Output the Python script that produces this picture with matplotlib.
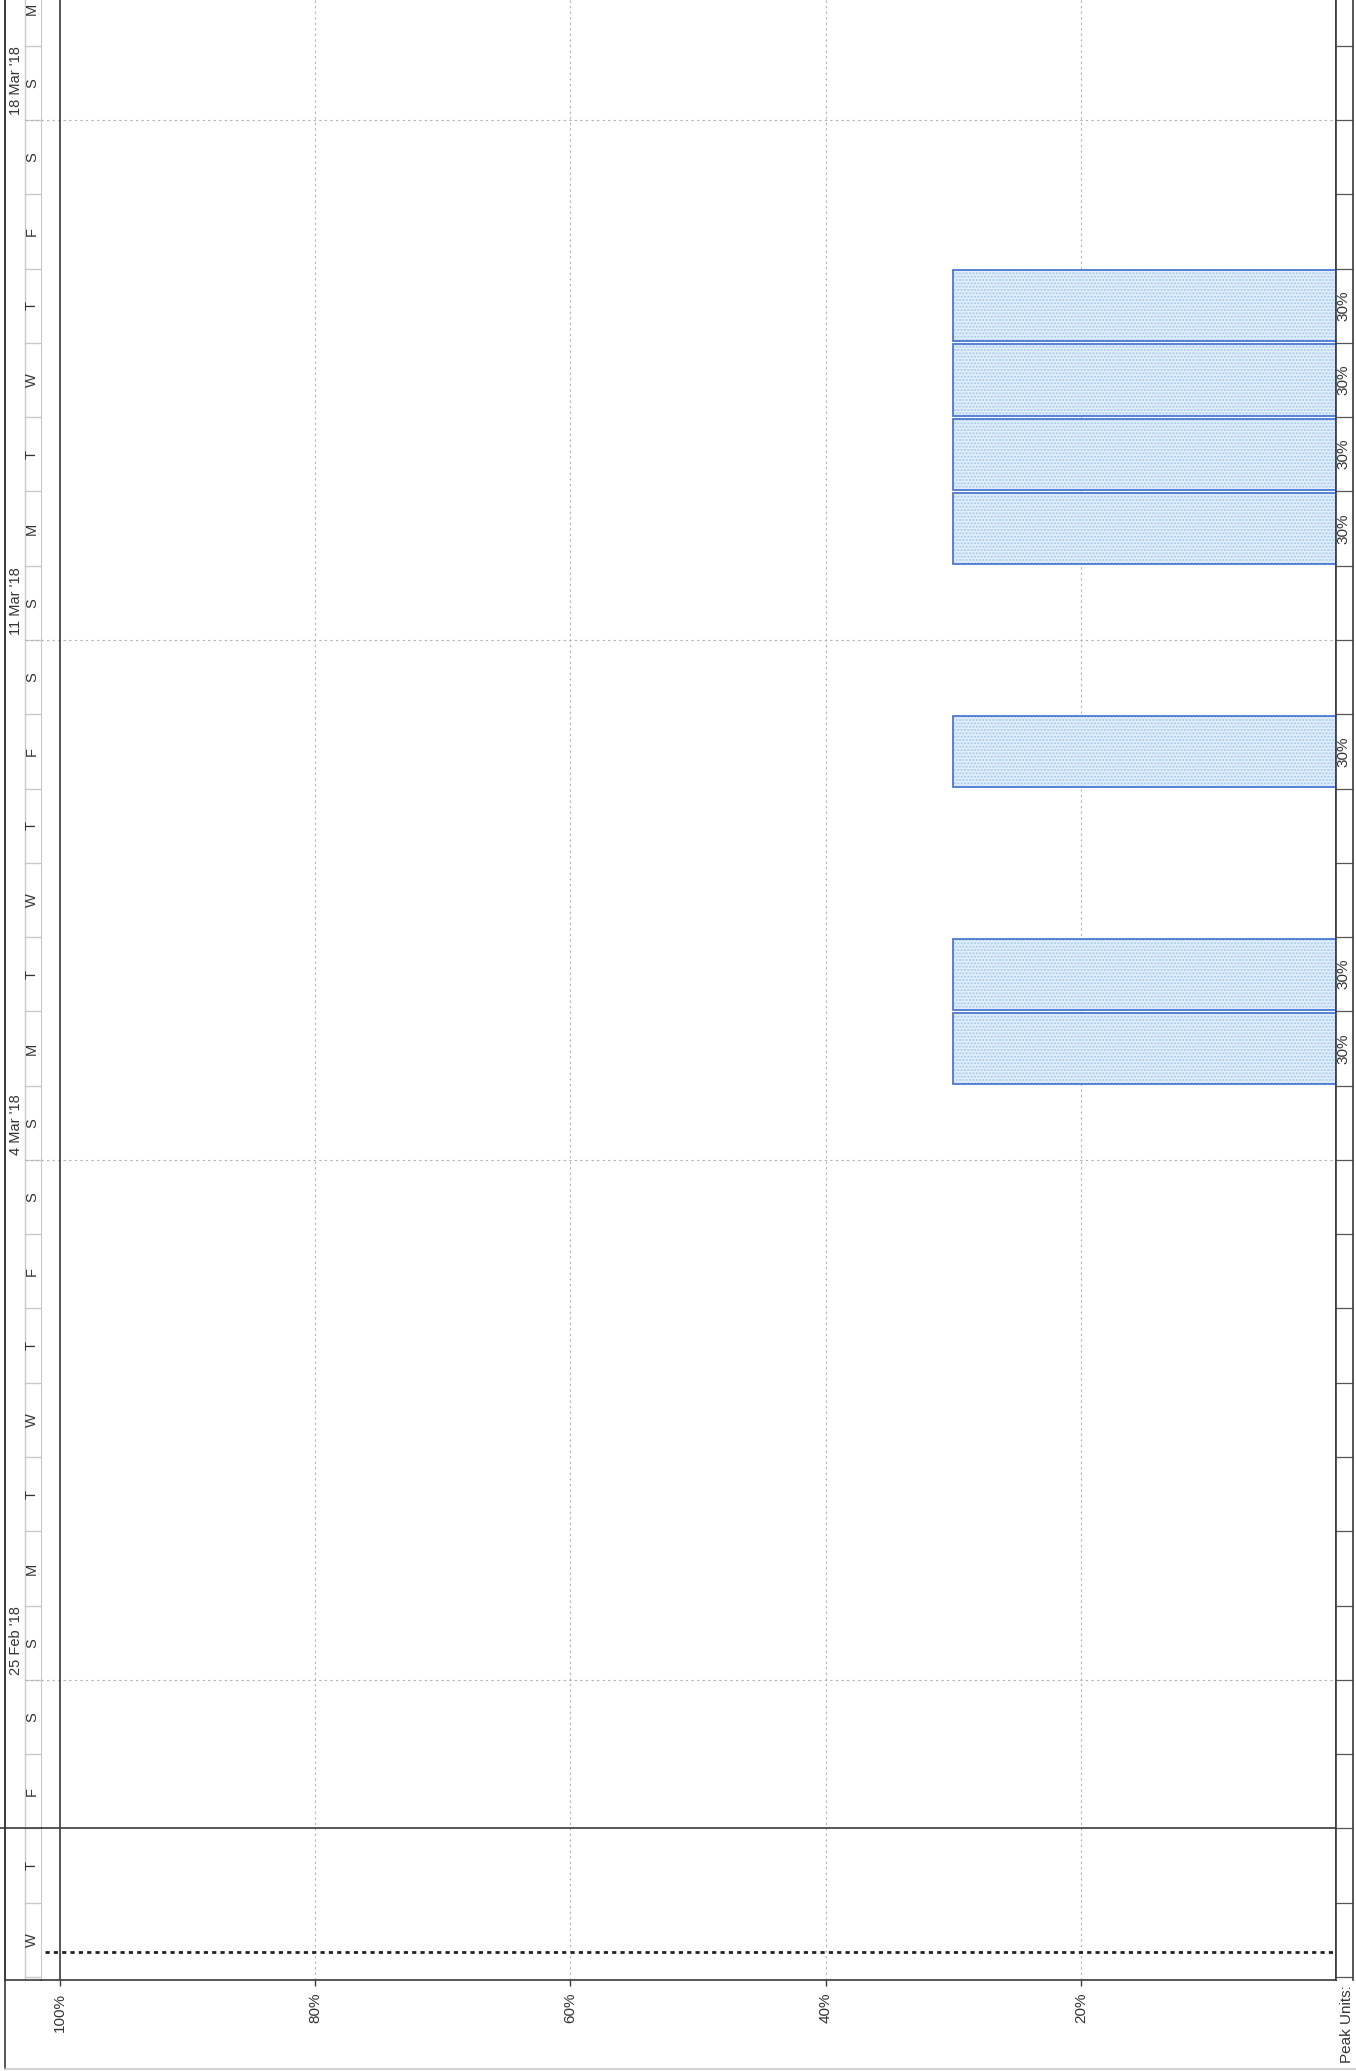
import numpy as np
import matplotlib
matplotlib.use('Agg')
import matplotlib.pyplot as plt
import matplotlib.dates as mdates
from matplotlib.lines import Line2D

W, H = 1356, 2071

# chart data
bar_days = ['2018-03-05', '2018-03-06', '2018-03-09', '2018-03-12',
            '2018-03-13', '2018-03-14', '2018-03-15']
peak_units = [30, 30, 30, 30, 30, 30, 30]
week_starts = ['2018-02-25', '2018-03-04', '2018-03-11', '2018-03-18']
week_labels = ["25 Feb '18", "4 Mar '18", "11 Mar '18", "18 Mar '18"]
first_day = '2018-02-21'
last_day = '2018-03-19'
pct_ticks = [100, 80, 60, 40, 20]
pct_labels = ['100%', '80%', '60%', '40%', '20%']
grid_pcts = [80, 60, 40, 20]
start_line = '2018-02-21T08:00'
break_line = '2018-02-23'
units_label = 'Peak Units:'
day_letters = ['M', 'T', 'W', 'T', 'F', 'S', 'S']

plt.rcParams['font.family'] = ['Liberation Sans', 'DejaVu Sans']
TXT = '#333333'
DARK = '#3a3a3a'
LIGHT = '#c8c8c8'


def box(x0, x1, ytop, ybot):
    return [x0 / W, 1 - ybot / H, (x1 - x0) / W, (ybot - ytop) / H]


def dnum(s):
    return mdates.date2num(np.datetime64(s))


days = np.arange(np.datetime64(first_day), np.datetime64(last_day) + 1)
day_nums = mdates.date2num(days)
ylo = dnum(first_day) - 0.04
yhi = dnum(last_day) + 0.615

fig = plt.figure(figsize=(W / 100, H / 100), dpi=100)

# main graph area
ax = fig.add_axes(box(41, 1336, 0, 1980))
ax.set_xlim(100 + 19 / 12.76, 0)
ax.set_ylim(ylo, yhi)
for s in ['top']:
    ax.spines[s].set_visible(False)
ax.spines['left'].set_color(LIGHT)
ax.spines['right'].set_color(DARK)
ax.spines['bottom'].set_color(DARK)
ax.spines['right'].set_linewidth(1.2)
ax.spines['bottom'].set_linewidth(1.2)
ax.set_yticks([])
ax.set_xticks(pct_ticks)
ax.set_xticklabels(pct_labels, rotation=90, color=TXT, fontsize=11)
ax.tick_params(axis='x', length=4, width=1, color=DARK, pad=5)

ax.axvline(100, color=DARK, lw=1.2, zorder=3)
for g in grid_pcts:
    ax.axvline(g, color='#b0b0b0', lw=0.8, ls=(0, (2, 3)), zorder=1)
for w in week_starts:
    ax.axhline(dnum(w), color='#b0b0b0', lw=0.8, ls=(0, (2, 3)), zorder=1)

bar_y = mdates.date2num(np.array(bar_days, dtype='datetime64[D]')) + 0.5
ax.barh(bar_y, peak_units, height=0.96, left=0, color='#e2effa',
        edgecolor='#a3c8ec', hatch='.....', lw=0, zorder=2)
ax.barh(bar_y, peak_units, height=0.96, left=0, fill=False,
        edgecolor='#4a78d4', lw=1.3, zorder=3)

ax.axhline(dnum(start_line), color='#222222', lw=2, ls=(0, (1.5, 1.5)),
           xmin=4 / 1295, zorder=4)
ax.axhline(dnum(break_line), color=DARK, lw=1.2, zorder=4)

# timescale column on the left
tax = fig.add_axes(box(5, 41, 0, 1980), sharey=ax)
tax.set_xlim(0, 1)
tax.set_xticks([])
tax.tick_params(axis='y', left=False, labelleft=False)
tax.spines['top'].set_visible(False)
tax.spines['right'].set_visible(False)
tax.spines['left'].set_color(DARK)
tax.spines['left'].set_linewidth(1.2)
tax.spines['bottom'].set_color(DARK)
tax.spines['bottom'].set_linewidth(1.2)
tax.axvline(0.556, color=LIGHT, lw=1)
for d in day_nums:
    tax.axhline(d, xmin=0.556, xmax=1, color=LIGHT, lw=1)
for d, day in zip(day_nums, days):
    wd = int((day.astype('datetime64[D]').view('int64') - 4) % 7)
    tax.text(0.75, d + 0.5, day_letters[wd], rotation=90, ha='center',
             va='center', fontsize=10.5, color=TXT, clip_on=False)
for w, lab in zip(week_starts, week_labels):
    tax.axhline(dnum(w), xmin=0.556, xmax=1, color='#b0b0b0', lw=0.8,
                ls=(0, (2, 3)))
    tax.text(0.31, dnum(w) + 0.07, lab, rotation=90, rotation_mode='anchor',
             ha='left', va='center', fontsize=10.5, color=TXT)
tax.axhline(dnum(break_line), xmin=-5 / 36, xmax=1, color=DARK, lw=1.2,
            clip_on=False)

# peak units column on the right
rax = fig.add_axes(box(1336, 1353, 0, 1980), sharey=ax)
rax.set_xlim(0, 1)
rax.set_xticks([])
rax.tick_params(axis='y', left=False, labelleft=False)
for s in ['top', 'bottom']:
    rax.spines[s].set_visible(False)
rax.spines['left'].set_color(DARK)
rax.spines['right'].set_color(DARK)
rax.spines['left'].set_linewidth(1.2)
rax.spines['right'].set_linewidth(1.2)
for d in day_nums:
    rax.axhline(d, color='#555555', lw=0.9)
for y, u in zip(bar_y, peak_units):
    rax.text(0.45, y, '%d%%' % u, rotation=90, ha='center', va='center',
             fontsize=11, color=TXT)

fig.text(1347 / W, 1 - 1985 / H, units_label, rotation=90, ha='center',
         va='top', fontsize=11, color=TXT)

# page border of the scanned sheet
fig.add_artist(Line2D([5 / W, 5 / W], [1, 1 - 2069 / H], color=DARK, lw=1.2))
fig.add_artist(Line2D([5 / W, 1], [1 - 2069 / H, 1 - 2069 / H],
                      color=LIGHT, lw=1.2))

fig.savefig('out.png', dpi=100, facecolor='white')
